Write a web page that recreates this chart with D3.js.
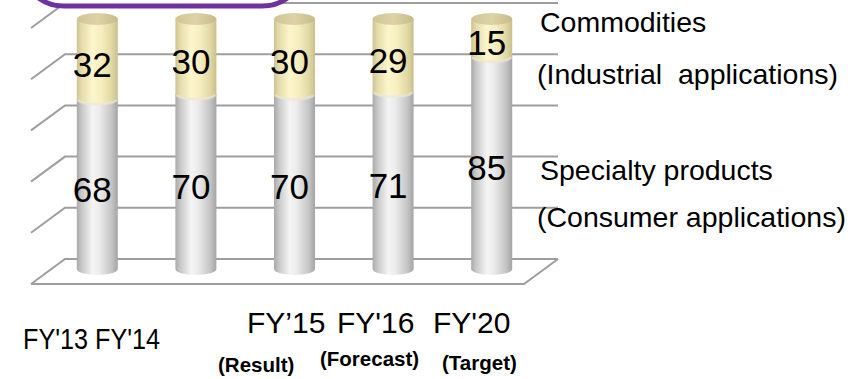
<!DOCTYPE html>
<html>
<head>
<meta charset="utf-8">
<script src="https://cdn.jsdelivr.net/npm/d3@7"></script>
<style>
  html, body { margin: 0; padding: 0; background: #fff; }
  svg { display: block; font-family: "Liberation Sans", Arial, sans-serif; }
</style>
</head>
<body>
<svg id="chart" width="854" height="379"></svg>
<script>
// Share of sales: specialty products vs commodities (100% stacked)
const categories = ["FY'13", "FY'14", "FY\u201915", "FY'16", "FY'20"];
const subLabels = ["", "", "(Result)", "(Forecast)", "(Target)"];
const specialty = [68, 70, 70, 71, 85];
const commodities = [32, 30, 30, 29, 15];
const gridTicks = [0, 20, 40, 60, 80, 100];

const svg = d3.select("#chart");

// back wall of the 3D plot and the depth offset of the floor/side
const wall = { x0: 65, x1: 558, y0: 259, y1: 3 };
const depth = { dx: -34, dy: 25 };

const yWall = d3.scaleLinear().domain([0, 100]).range([wall.y0, wall.y1]);
const yCyl = d3.scaleLinear().domain([0, 100]).range([269, 19]);
const x = d3.scaleBand().domain(categories).range([48, 541]);
const cylW = 41, rx = cylW / 2, ry = 6;

const defs = svg.append("defs");
function bodyGrad(id, stops) {
  const g = defs.append("linearGradient").attr("id", id)
    .attr("x1", "0%").attr("x2", "100%").attr("y1", "0%").attr("y2", "0%");
  stops.forEach(s => g.append("stop").attr("offset", s[0]).attr("stop-color", s[1]));
}
bodyGrad("grayBody", [["0%", "#a9a9a9"], ["12%", "#c8c8c8"], ["38%", "#f4f4f4"], ["55%", "#ececec"], ["85%", "#c4c4c4"], ["100%", "#a4a4a4"]]);
bodyGrad("yellowBody", [["0%", "#cdc391"], ["12%", "#e6dcaa"], ["38%", "#fcf6cc"], ["60%", "#f6eec0"], ["85%", "#e2d8a4"], ["100%", "#c9bf8c"]]);
bodyGrad("lidGrad", [["0%", "#cfc597"], ["50%", "#ddd3a6"], ["100%", "#c5bb8a"]]);

// gridlines on the back wall and side wall
const grid = svg.append("g").attr("stroke", "#9e9e9e").attr("stroke-width", 2).attr("fill", "none");
gridTicks.forEach(t => {
  const yy = yWall(t);
  grid.append("path").attr("d",
    `M${wall.x0 + depth.dx},${yy + depth.dy}L${wall.x0},${yy}L${wall.x1},${yy}`);
});
// floor outline
grid.append("path").attr("d",
  `M${wall.x1},${yWall(0)}L${wall.x1 + depth.dx},${yWall(0) + depth.dy}L${wall.x0 + depth.dx},${yWall(0) + depth.dy}`);

// title badge outline, running off the top edge
svg.append("rect").attr("x", 30).attr("y", -42).attr("width", 266).attr("height", 48)
  .attr("rx", 34).attr("ry", 30)
  .attr("fill", "#fff").attr("stroke", "#7030a0").attr("stroke-width", 5);

// cylinders
const rows = categories.map((c, i) => ({ c, spec: specialty[i], comm: commodities[i], sub: subLabels[i] }));
const cyl = svg.append("g");
rows.forEach(d => {
  const cx = x(d.c) + x.bandwidth() / 2;
  const l = cx - rx, r = cx + rx;
  const yb = yCyl(0), ym = yCyl(d.spec), yt = yCyl(d.spec + d.comm);
  // gray lower segment (bottom curve included)
  cyl.append("path").attr("fill", "url(#grayBody)")
    .attr("d", `M${l},${ym}L${l},${yb}A${rx},${ry} 0 0 0 ${r},${yb}L${r},${ym}Z`);
  // yellow upper segment, its lower edge curving over the gray
  cyl.append("path").attr("fill", "url(#yellowBody)")
    .attr("d", `M${l},${yt}L${l},${ym}A${rx},${ry} 0 0 0 ${r},${ym}L${r},${yt}Z`);
  // soft band at the junction
  cyl.append("path").attr("fill", "none").attr("stroke", "#e9e6dc").attr("stroke-width", 3).attr("opacity", 0.6)
    .attr("d", `M${l + 1},${ym + 1}A${rx},${ry} 0 0 0 ${r - 1},${ym + 1}`);
  // lid
  cyl.append("ellipse").attr("cx", cx).attr("cy", yt).attr("rx", rx).attr("ry", ry)
    .attr("fill", "url(#lidGrad)");
});

// value labels
const lab = svg.append("g").attr("font-size", 35).attr("text-anchor", "middle").attr("fill", "#000");
rows.forEach(d => {
  const cx = x(d.c) + x.bandwidth() / 2 - 5;
  lab.append("text").attr("x", cx).attr("y", yCyl(d.spec + d.comm / 2) + 17.5).text(d.comm);
  lab.append("text").attr("x", cx).attr("y", yCyl(d.spec / 2) + 17.5).text(d.spec);
});

// series names on the right
const leg = svg.append("g").attr("font-size", 28.5).attr("fill", "#000");
leg.append("text").attr("x", 540).attr("y", 32).text("Commodities");
leg.append("text").attr("x", 537).attr("y", 84).attr("xml:space", "preserve").text("(Industrial  applications)");
leg.append("text").attr("x", 540).attr("y", 180).text("Specialty products");
leg.append("text").attr("x", 537).attr("y", 227).text("(Consumer applications)");

// category labels
const catX = [23, 95, 247, 337, 433];
const catY = [349, 349, 333, 333, 333];
const catSize = [29, 29, 30, 30, 30];
const catLen = [65, 65, null, null, null];
const subX = [0, 0, 218, 320, 442];
const subY = [0, 0, 372, 366, 370];
const cat = svg.append("g").attr("fill", "#000");
rows.forEach((d, i) => {
  const t = cat.append("text").attr("x", catX[i]).attr("y", catY[i]).attr("font-size", catSize[i]).text(d.c);
  if (catLen[i]) t.attr("textLength", catLen[i]).attr("lengthAdjust", "spacingAndGlyphs");
  if (d.sub) cat.append("text").attr("x", subX[i]).attr("y", subY[i])
    .attr("font-size", 20.5).attr("font-weight", "bold").text(d.sub);
});
</script>
</body>
</html>
